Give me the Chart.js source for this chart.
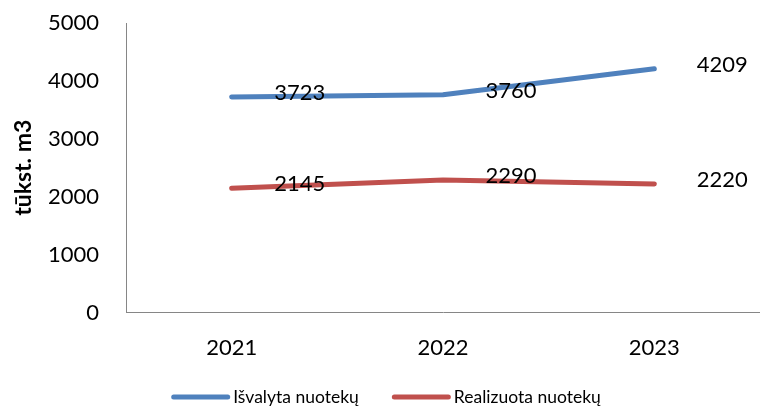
<!DOCTYPE html>
<html>
<head>
<meta charset="utf-8">
<script src="https://cdn.jsdelivr.net/npm/chart.js@4/dist/chart.umd.min.js"></script>
<style>
html,body{margin:0;padding:0;background:#fff;overflow:hidden;}
#wrap{position:relative;width:760px;height:408px;}
</style>
</head>
<body>
<div id="wrap"><canvas id="c" width="760" height="408"></canvas></div>
<script>
const categories = ['2021', '2022', '2023'];
const seriesNames = ['Išvalyta nuotekų', 'Realizuota nuotekų'];
const isvalyta = [3723, 3760, 4209];
const realizuota = [2145, 2290, 2220];
const yTicks = [0, 1000, 2000, 3000, 4000, 5000];
const yTitle = 'tūkst. m3';
const colors = ['#4F81BD', '#C0504D'];
const FONT = 'Lato, "Open Sans", sans-serif';

const dataLabels = {
  id: 'dataLabels',
  afterDatasetsDraw(chart) {
    const ctx = chart.ctx;
    ctx.save();
    ctx.font = '22px ' + FONT;
    ctx.fillStyle = '#000';
    ctx.textAlign = 'center';
    ctx.textBaseline = 'middle';
    chart.data.datasets.forEach((ds, i) => {
      const meta = chart.getDatasetMeta(i);
      meta.data.forEach((pt, j) => {
        ctx.fillText(String(ds.data[j]), pt.x + 68, pt.y - 4);
      });
    });
    ctx.restore();
  }
};

const customLegend = {
  id: 'customLegend',
  afterDraw(chart) {
    const ctx = chart.ctx;
    ctx.save();
    ctx.font = '17.5px ' + FONT;
    ctx.textBaseline = 'middle';
    ctx.textAlign = 'left';
    const y = 397;
    const lineW = 59, gapText = 3, gapItem = 33;
    const widths = chart.data.datasets.map(ds => lineW + gapText + ctx.measureText(ds.label).width);
    const total = widths.reduce((a, b) => a + b, 0) + gapItem * (widths.length - 1);
    let x = 386 - total / 2;
    chart.data.datasets.forEach((ds, i) => {
      ctx.strokeStyle = ds.borderColor;
      ctx.lineWidth = 5;
      ctx.lineCap = 'round';
      ctx.beginPath();
      ctx.moveTo(x + 2.5, y);
      ctx.lineTo(x + lineW - 2.5, y);
      ctx.stroke();
      ctx.fillStyle = '#000';
      ctx.fillText(ds.label, x + lineW + gapText, y);
      x += widths[i] + gapItem;
    });
    ctx.restore();
  }
};

new Chart(document.getElementById('c'), {
  type: 'line',
  data: {
    labels: categories,
    datasets: [
      { label: seriesNames[0], data: isvalyta, borderColor: colors[0], backgroundColor: colors[0] },
      { label: seriesNames[1], data: realizuota, borderColor: colors[1], backgroundColor: colors[1] }
    ]
  },
  options: {
    responsive: false,
    animation: false,
    devicePixelRatio: 1,
    layout: { padding: { top: 23, right: -3, bottom: 25, left: 0 } },
    elements: {
      line: { borderWidth: 5, tension: 0, borderCapStyle: 'round', borderJoinStyle: 'round', fill: false },
      point: { radius: 0, hoverRadius: 0 }
    },
    plugins: {
      legend: { display: false },
      tooltip: { enabled: false }
    },
    scales: {
      x: {
        offset: true,
        afterFit: (s) => { s.paddingLeft = 0; s.paddingRight = 0; },
        grid: { display: false, drawTicks: false },
        border: { display: true, color: '#868686', width: 1 },
        ticks: { color: '#000', font: { family: FONT, size: 22 }, padding: 22, maxRotation: 0 }
      },
      y: {
        min: 0, max: 5000,
        afterBuildTicks: (s) => { s.ticks = yTicks.map(v => ({ value: v })); },
        afterFit: (s) => { s.width = 126; s.paddingTop = 10; s.paddingBottom = 10; },
        grid: { display: false, drawTicks: false },
        border: { display: true, color: '#868686', width: 1 },
        ticks: { color: '#000', font: { family: FONT, size: 22 }, padding: 27, callback: (v) => String(v) },
        title: { display: true, text: yTitle, color: '#000', font: { family: FONT, size: 23, weight: 'bold' }, padding: { top: 10, bottom: 4 } }
      }
    }
  },
  plugins: [dataLabels, customLegend]
});
</script>
</body>
</html>
